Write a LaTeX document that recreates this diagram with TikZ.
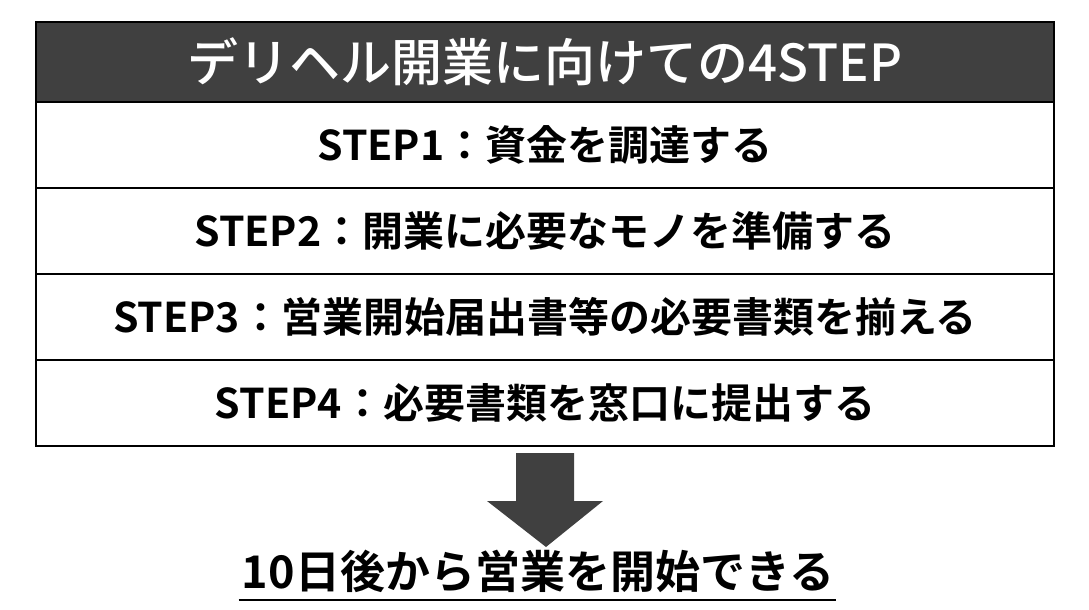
\documentclass[tikz,border=0pt]{standalone}
\usepackage{fontspec}
\usepackage{xcolor}
\usetikzlibrary{positioning,calc}
\setmainfont{Noto Sans CJK JP}[BoldFont={Noto Sans CJK JP Bold}]
\newfontfamily\headfont{Noto Sans CJK JP Medium}
\definecolor{headgray}{HTML}{404040}

\begin{document}
\begin{tikzpicture}[
    x=1pt,y=-1pt,
    every node/.style={font=\bfseries\fontsize{41}{41}\selectfont},
    cell/.style={draw,line width=1.4pt,minimum width=1018pt,minimum height=86pt,inner sep=0pt,anchor=center},
    headcell/.style={cell,fill=headgray,text=white,minimum height=80pt,font=\headfont\fontsize{51}{51}\selectfont}
]
\useasboundingbox (0,0) rectangle (1089,610);
\node[headcell] (head) at (545,62) {デリヘル開業に向けての4STEP};
\node[cell] (s1) at (545,145) {STEP1：資金を調達する};
\node[cell] (s2) at (545,231) {STEP2：開業に必要なモノを準備する};
\node[cell] (s3) at (545,317) {STEP3：営業開始届出書等の必要書類を揃える};
\node[cell] (s4) at (545,403) {STEP4：必要書類を窓口に提出する};

\node[font=\bfseries\fontsize{45}{45}\selectfont,inner sep=0pt] (goal) at (538,571) {10日後から営業を開始できる};
\draw[line width=2pt] ($(goal.base west)+(-3,12)$) -- ($(goal.base east)+(2,12)$);

% down arrow
\fill[headgray] (516,453) -- (574,453) -- (574,501) -- (603,501) -- (546,547)
    -- (487,501) -- (516,501) -- cycle;
\end{tikzpicture}
\end{document}
